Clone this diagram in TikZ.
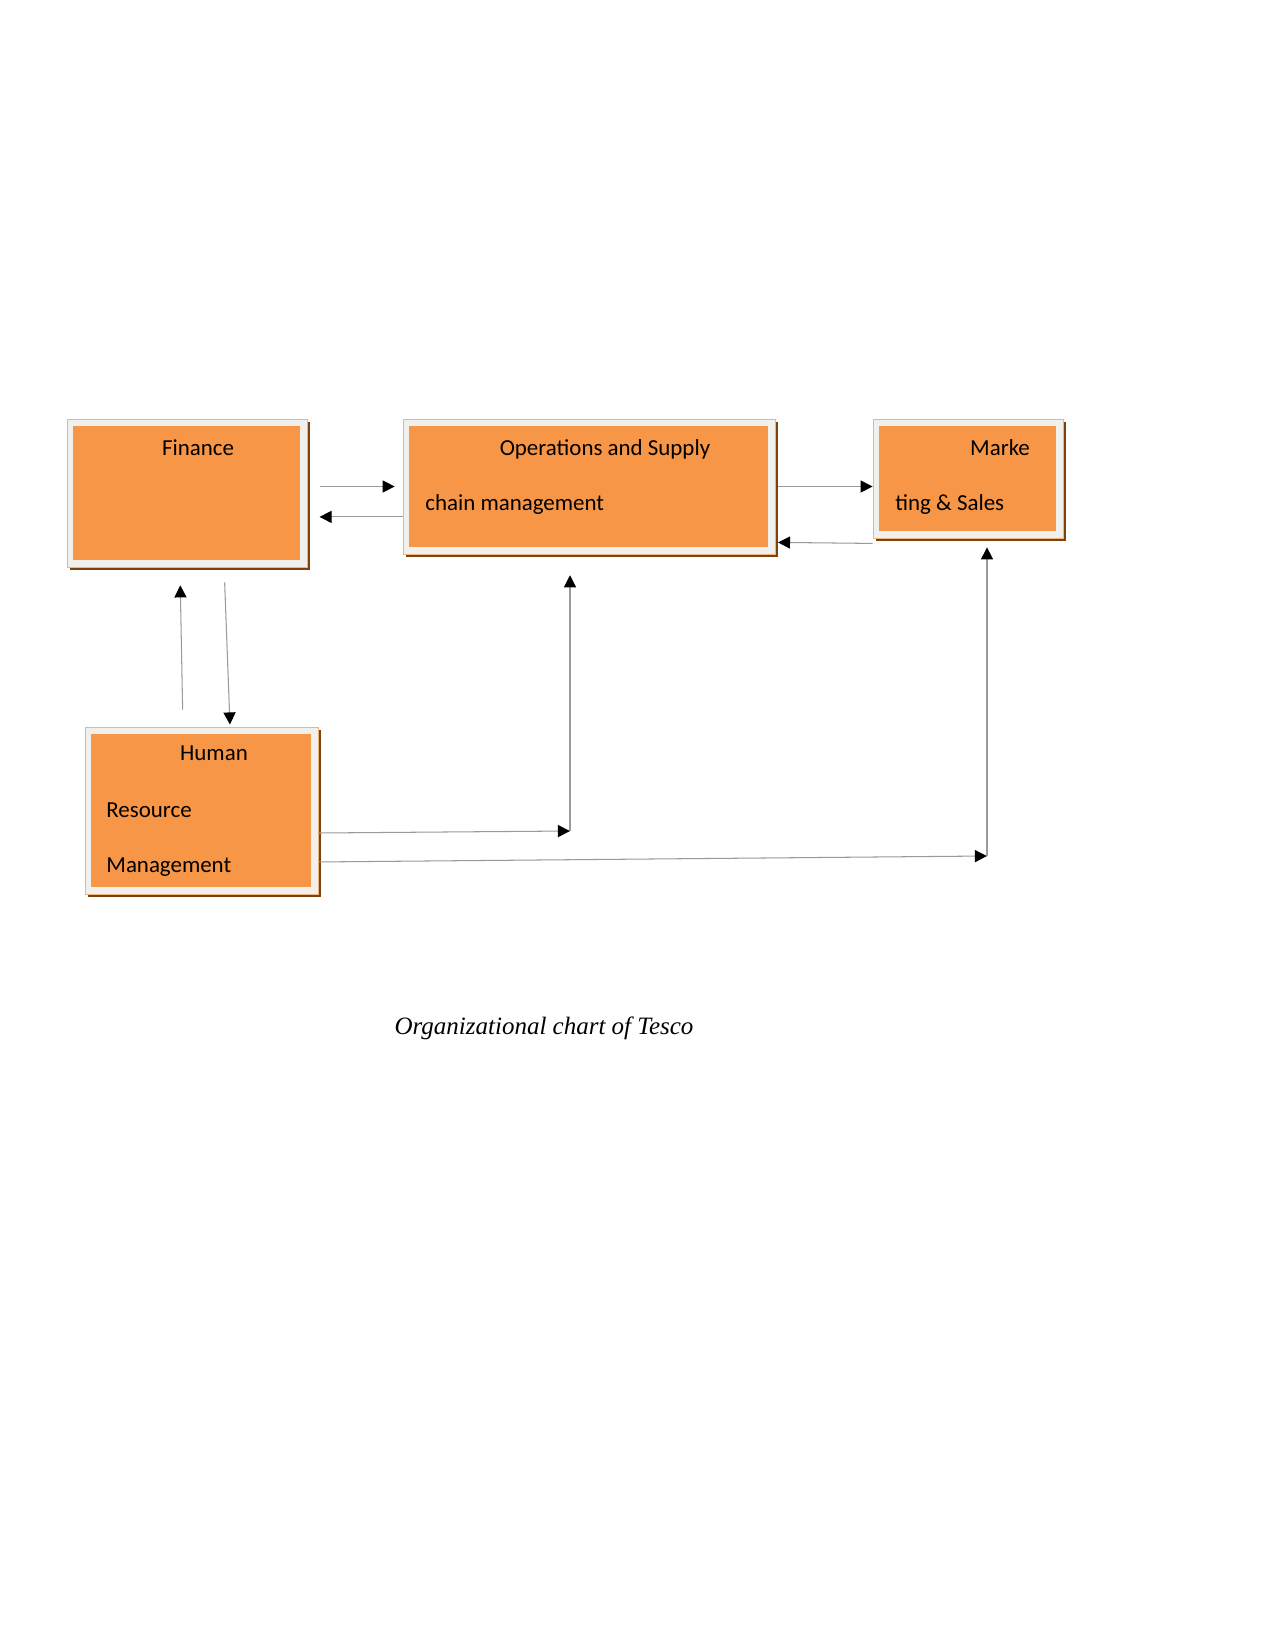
\documentclass[tikz,border=0pt]{standalone}
\usepackage{fontspec}
\usepackage{xcolor}
\usepackage{tikz}
\usetikzlibrary{positioning, calc, arrows.meta, shadows}
\setmainfont{Liberation Serif}
\newfontfamily\boxfont{Carlito}
\definecolor{unitorange}{HTML}{F79646}
\definecolor{framefill}{HTML}{F2F0EC}
\definecolor{frameline}{HTML}{EDB57F}
\definecolor{shadowbrown}{HTML}{7F400A}
\definecolor{linkgray}{HTML}{9A9A9A}

\begin{document}
\begin{tikzpicture}[
    x=0.48pt, y=-0.48pt,
    unit/.style={draw=frameline, line width=0.4pt, fill=framefill, inner sep=0pt,
      drop shadow={shadow xshift=1.4pt, shadow yshift=-1.4pt, fill=shadowbrown, opacity=1},
      path picture={\fill[unitorange] ([shift={(2.9pt,-3.3pt)}]path picture bounding box.north west)
        rectangle ([shift={(-3.3pt,3.3pt)}]path picture bounding box.south east);}},
    unittext/.style={font=\boxfont\fontsize{11}{13}\selectfont, inner sep=0pt},
    link/.style={draw=linkgray, line width=0.5pt, -{Triangle[length=5.8pt, width=5.8pt, color=black]}},
  ]
  \useasboundingbox (0,0) rectangle (1275,1650);
  % boxes
  \node[unit, minimum width=115.2pt, minimum height=71.04pt] (fin) at (187,493) {};
  \node[unit, minimum width=178.56pt, minimum height=64.8pt] (ops) at (589,486.5) {};
  \node[unit, minimum width=91.2pt, minimum height=57.12pt] (mkt) at (968,478.5) {};
  \node[unit, minimum width=111.84pt, minimum height=80.16pt] (hr) at (201.5,810.5) {};
  % texts in boxes
  \node[unittext, anchor=base] (finA) at (198,455) {Finance};
  \node[unittext, anchor=base] (opsA) at (605,455) {Operations and Supply};
  \node[unittext, anchor=base west] (opsB) at (425,510) {chain management};
  \node[unittext, anchor=base] (mktA) at (1000,455) {Marke};
  \node[unittext, anchor=base west] (mktB) at (895,510) {ting \& Sales};
  \node[unittext, anchor=base] (hrA) at (214,760) {Human};
  \node[unittext, anchor=base west] (hrB) at (106,817) {Resource};
  \node[unittext, anchor=base west] (hrC) at (106,872) {Management};
  % links
  \draw[link, shorten <=6.2pt, shorten >=3.8pt] (fin.east |- ops.west) -- (ops.west);
  \coordinate (of) at ([yshift=-14.6pt]ops.west);
  \draw[link, shorten >=5.8pt] (of) -- (of -| fin.east);
  \draw[link, shorten <=1pt] (ops.east) -- (ops.east -| mkt.west);
  \coordinate (mo) at ([yshift=-2.4pt]mkt.south west);
  \draw[link, shorten >=1.2pt] (mo) -- ([yshift=0.5pt]mo -| ops.east);
  \draw[link, shorten <=8.2pt, shorten >=8.6pt] ([xshift=-8.9pt]hr.north) -- ([xshift=-3.4pt]fin.south);
  \draw[link, shorten <=7.2pt, shorten >=1pt] ([xshift=17.8pt]fin.south) -- ([xshift=13.7pt]hr.north);
  \coordinate (ho) at (570,831);
  \draw[link] ([yshift=-10.8pt]hr.east) -- (ho);
  \draw[link, shorten >=10pt] (ho) -- (ho |- ops.south);
  \coordinate (hm) at (987,856);
  \draw[link] ([yshift=-24.7pt]hr.east) -- (hm);
  \draw[link, shorten >=4.3pt] (hm) -- (hm |- mkt.south);
  % caption
  \node[font=\itshape\fontsize{12}{14}\selectfont, inner sep=0pt, anchor=base] (cap) at (544,1034) {Organizational chart of Tesco};
\end{tikzpicture}
\end{document}
